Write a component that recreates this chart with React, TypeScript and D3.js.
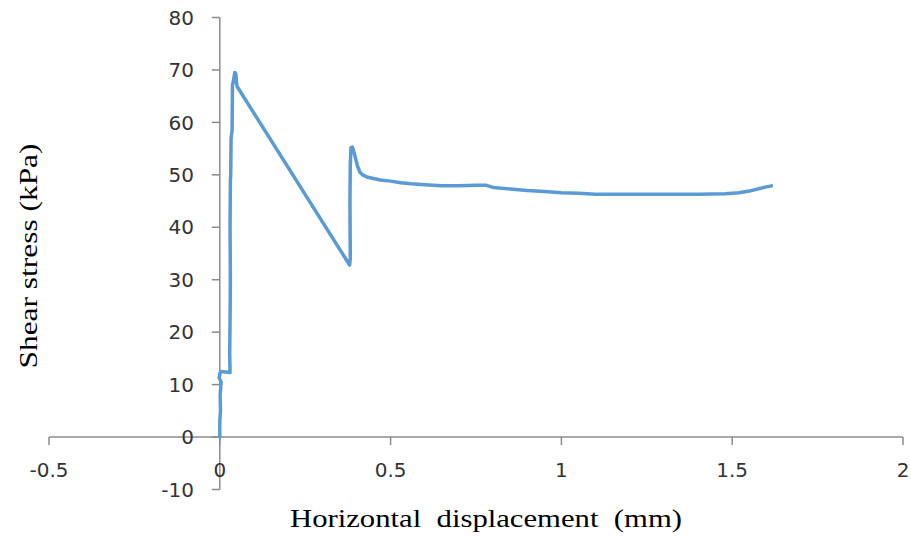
import React from "react";
import * as d3 from "d3";

const displacement = [0, 0.0, 0.002, 0.001, 0.004, -0.002, 0.001, 0.003, 0.03, 0.029, 0.03, 0.031, 0.03, 0.031, 0.032, 0.033, 0.036, 0.037, 0.04, 0.044, 0.047, 0.049, 0.051, 0.054, 0.38, 0.382, 0.381, 0.382, 0.384, 0.388, 0.392, 0.398, 0.404, 0.41, 0.418, 0.43, 0.45, 0.47, 0.5, 0.53, 0.56, 0.6, 0.65, 0.7, 0.75, 0.78, 0.8, 0.85, 0.9, 0.95, 1.0, 1.05, 1.1, 1.2, 1.3, 1.4, 1.48, 1.52, 1.55, 1.58, 1.6, 1.615];
const shearStress = [0, 3, 5, 8, 10.5, 11.3, 12.3, 12.5, 12.3, 16, 22, 30, 40, 49, 50, 57, 58.5, 67, 68, 69.5, 69.3, 67.5, 66.8, 66.5, 32.8, 34, 45, 52, 55.2, 55.3, 54.5, 53, 51.5, 50.5, 50, 49.6, 49.3, 49, 48.8, 48.5, 48.3, 48.1, 47.9, 47.9, 48, 48.0, 47.6, 47.3, 47, 46.8, 46.6, 46.5, 46.3, 46.3, 46.3, 46.3, 46.4, 46.6, 46.9, 47.4, 47.7, 47.9];

const xTicks = [-0.5, 0, 0.5, 1, 1.5, 2];
const yTicks = [-10, 0, 10, 20, 30, 40, 50, 60, 70, 80];
const xTitle = "Horizontal  displacement  (mm)";
const yTitle = "Shear stress (kPa)";

export default function App() {
  const W = 911, H = 538;
  const x = d3.scaleLinear().domain([-0.5, 2]).range([49, 903]);
  const y = d3.scaleLinear().domain([-10, 80]).range([489.5, 17.5]);
  const axisColor = "#8c8c8c";
  const pts = displacement.map((d, i) => [d, shearStress[i]] as [number, number]);
  const line = d3.line<[number, number]>().x(d => x(d[0])).y(d => y(d[1]));
  const x0 = x(0), y0 = y(0);
  const tickFont = "DejaVu Sans, sans-serif";
  return (
    <svg width={W} height={H} style={{ position: "absolute", left: 0, top: 0, background: "#fff" }}>
      {/* x axis */}
      <line x1={x(-0.5)} x2={x(2)} y1={y0} y2={y0} stroke={axisColor} strokeWidth={1.5} />
      {xTicks.map(t => (
        <line key={"xt" + t} x1={x(t)} x2={x(t)} y1={y0} y2={y0 + 8} stroke={axisColor} strokeWidth={1.5} />
      ))}
      {/* y axis */}
      <line x1={x0} x2={x0} y1={y(-10)} y2={y(80)} stroke={axisColor} strokeWidth={1.5} />
      {yTicks.map(t => (
        <line key={"yt" + t} x1={x0 - 8} x2={x0} y1={y(t)} y2={y(t)} stroke={axisColor} strokeWidth={1.5} />
      ))}
      {yTicks.map(t => (
        <text key={"yl" + t} x={194} y={y(t)} dy="0.36em" textAnchor="end" fontFamily={tickFont} fontSize={20} fill="#333">
          {String(t)}
        </text>
      ))}
      {xTicks.map(t => (
        <text key={"xl" + t} x={x(t)} y={470} dy="0.36em" textAnchor="middle" fontFamily={tickFont} fontSize={20} fill="#333">
          {String(t)}
        </text>
      ))}
      <path d={line(pts) || ""} fill="none" stroke="#5B9BD5" strokeWidth={3.5} strokeLinejoin="round" strokeLinecap="round" />
      <text x={486} y={527} textAnchor="middle" fontFamily="Liberation Serif, serif" fontSize={25} fill="#000" textLength={392} lengthAdjust="spacingAndGlyphs" style={{ whiteSpace: "pre" }}>
        {xTitle}
      </text>
      <text transform={`translate(37,256) rotate(-90)`} textAnchor="middle" fontFamily="Liberation Serif, serif" fontSize={25} fill="#000" textLength={225} lengthAdjust="spacingAndGlyphs">
        {yTitle}
      </text>
    </svg>
  );
}
